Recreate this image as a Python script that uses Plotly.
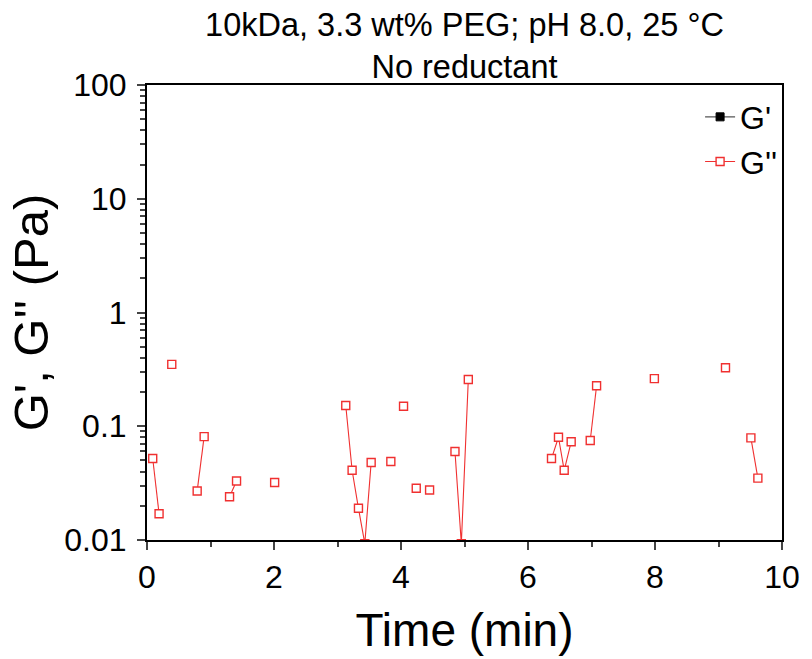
import plotly.graph_objects as go

# ---- data ----
# None marks a break in the measured series (no connecting line)
time_min = [0.09, 0.19, None, 0.39, None, 0.79, 0.90, None, 1.30, 1.41, None,
            2.01, None, 3.13, 3.23, 3.33, 3.43, 3.53, None, 3.84, None, 4.04, None,
            4.24, None, 4.45, None, 4.85, 4.95, 5.06, None, 6.37, 6.48, 6.57, 6.68,
            None, 6.98, 7.08, None, 7.99, None, 9.11, None, 9.51, 9.62]
g_double_prime = [0.052, 0.017, None, 0.35, None, 0.027, 0.081, None, 0.024, 0.033, None,
                  0.032, None, 0.152, 0.041, 0.019, 0.0093, 0.048, None, 0.049, None, 0.150, None,
                  0.0285, None, 0.0275, None, 0.060, 0.0093, 0.258, None, 0.052, 0.080, 0.041, 0.073,
                  None, 0.075, 0.227, None, 0.262, None, 0.327, None, 0.079, 0.035]
# G' has no points inside the displayed range
g_prime_time = [None]
g_prime = [None]

x_ticks = [0, 2, 4, 6, 8, 10]
y_tickvals = [0.01, 0.1, 1, 10, 100]
y_ticktext = ["0.01", "0.1", "1", "10", "100"]

FONT = "Liberation Sans, Arial, sans-serif"

y_minor = [m * 10 ** e for e in range(-2, 2) for m in range(2, 10)]

fig = go.Figure()
fig.add_trace(go.Scatter(
    x=g_prime_time, y=g_prime, name="G'", mode="lines+markers",
    line=dict(color="#555555", width=1.2),
    marker=dict(symbol="square", size=8, color="black", line=dict(color="black", width=1)),
    legendgroup="a",
))
fig.add_trace(go.Scatter(
    x=time_min, y=g_double_prime, name="G''", mode="lines+markers",
    line=dict(color="#f03030", width=1.1),
    marker=dict(symbol="square", size=8, color="white", line=dict(color="#f03030", width=1.4)),
    connectgaps=False, legendgroup="b",
))

fig.update_layout(
    width=812, height=659,
    margin=dict(l=147, r=23, t=85, b=116),
    paper_bgcolor="white", plot_bgcolor="white",
    font=dict(family=FONT, color="black"),
    title=dict(text="10kDa, 3.3 wt% PEG; pH 8.0, 25 °C<br>No reductant",
               x=0.5, xref="paper", xanchor="center",
               y=0.946, yref="container", yanchor="middle",
               font=dict(size=32.5, family=FONT, color="black")),
    showlegend=True,
    legend=dict(x=0.871, y=0.99, xanchor="left", yanchor="top",
                font=dict(size=32, family=FONT), bgcolor="rgba(0,0,0,0)",
                tracegroupgap=0, traceorder="grouped"),
    xaxis=dict(range=[0, 10], tickvals=x_ticks, ticks="outside", ticklen=8, tickwidth=2,
               showline=True, linewidth=2, linecolor="black", mirror=True,
               showgrid=False, zeroline=False,
               tickfont=dict(size=32, family=FONT), ticklabelstandoff=0,
               minor=dict(dtick=1, ticks="outside", ticklen=5, tickwidth=2, showgrid=False),
               title=dict(text="Time (min)", font=dict(size=46, family=FONT), standoff=19)),
    yaxis=dict(type="log", range=[-2, 2], tickvals=y_tickvals, ticktext=y_ticktext,
               ticks="outside", ticklen=8, tickwidth=2,
               showline=True, linewidth=2, linecolor="black", mirror=True,
               showgrid=False, zeroline=False,
               tickfont=dict(size=32, family=FONT), ticklabelstandoff=4,
               minor=dict(tickvals=y_minor, ticks="outside", ticklen=5, tickwidth=1.5, showgrid=False),
               title=dict(text="G', G'' (Pa)", font=dict(size=49, family=FONT), standoff=0)),
)

fig.write_html("out.html")
